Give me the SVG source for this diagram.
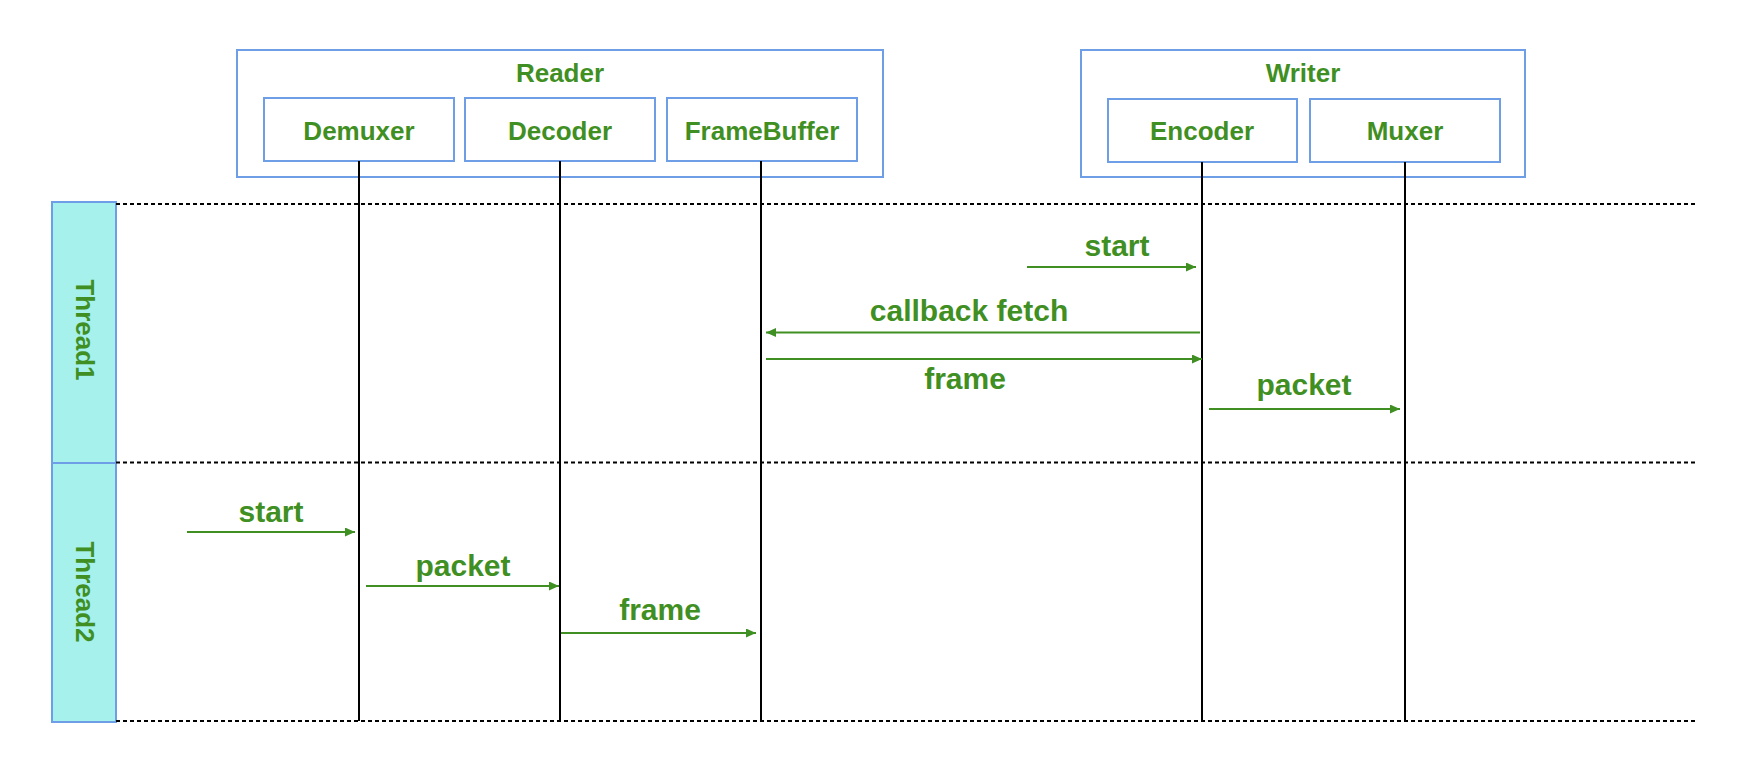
<svg xmlns="http://www.w3.org/2000/svg" width="1744" height="770" viewBox="0 0 1744 770">
<style>
.box{fill:#ffffff;stroke:#6d9ee6;stroke-width:2}
.thread{fill:#a6f1ec;stroke:#6d9ee6;stroke-width:2}
.t{font-family:"Liberation Sans",Arial,Helvetica,sans-serif;font-weight:bold;fill:#3f8f23;text-anchor:middle}
.n{font-size:26px}
.l{font-size:30px}
.life{stroke:#000000;stroke-width:2;fill:none}
.dot{stroke:#000000;stroke-width:2;stroke-dasharray:4 3;fill:none}
.msg{stroke:#3f8f23;stroke-width:2;fill:none;marker-end:url(#ah)}
</style>
<defs>
<marker id="ah" markerUnits="userSpaceOnUse" markerWidth="11" markerHeight="10" refX="10" refY="4.5" orient="auto">
<path d="M0,0 L10,4.5 L0,9 z" fill="#3f8f23"/>
</marker>
</defs>
<rect width="1744" height="770" fill="#ffffff"/>

<g id="reader">
<rect class="box" x="237" y="50" width="646" height="127"/>
<text class="t n" x="560" y="82">Reader</text>
</g>
<g id="demuxer">
<rect class="box" x="264" y="98" width="190" height="63"/>
<text class="t n" x="359" y="140">Demuxer</text>
</g>
<g id="decoder">
<rect class="box" x="465" y="98" width="190" height="63"/>
<text class="t n" x="560" y="140">Decoder</text>
</g>
<g id="framebuffer">
<rect class="box" x="667" y="98" width="190" height="63"/>
<text class="t n" x="762" y="140">FrameBuffer</text>
</g>
<g id="writer">
<rect class="box" x="1081" y="50" width="444" height="127"/>
<text class="t n" x="1303" y="82">Writer</text>
</g>
<g id="encoder">
<rect class="box" x="1108" y="99" width="189" height="63"/>
<text class="t n" x="1202" y="140">Encoder</text>
</g>
<g id="muxer">
<rect class="box" x="1310" y="99" width="190" height="63"/>
<text class="t n" x="1405" y="140">Muxer</text>
</g>

<g id="thread1">
<rect class="thread" x="52" y="202" width="64" height="261"/>
<text class="t n" transform="translate(76,330) rotate(90)" x="0" y="0">Thread1</text>
</g>
<g id="thread2">
<rect class="thread" x="52" y="463" width="64" height="259"/>
<text class="t n" transform="translate(76,592) rotate(90)" x="0" y="0">Thread2</text>
</g>

<g id="separators">
<line class="dot" x1="116" y1="204" x2="1696" y2="204"/>
<line class="dot" x1="116" y1="462.5" x2="1696" y2="462.5"/>
<line class="dot" x1="116" y1="721" x2="1696" y2="721"/>
</g>

<g id="lifelines">
<line class="life" x1="359" y1="161" x2="359" y2="721"/>
<line class="life" x1="560" y1="161" x2="560" y2="721"/>
<line class="life" x1="761" y1="161" x2="761" y2="721"/>
<line class="life" x1="1202" y1="162" x2="1202" y2="721"/>
<line class="life" x1="1405" y1="162" x2="1405" y2="721"/>
</g>

<g id="connectors">
<line class="msg" x1="1027" y1="267" x2="1196" y2="267"/>
<text class="t l" x="1117" y="256">start</text>
<line class="msg" x1="1200" y1="332.5" x2="766" y2="332.5"/>
<text class="t l" x="969" y="321">callback fetch</text>
<line class="msg" x1="766" y1="359" x2="1202" y2="359"/>
<text class="t l" x="965" y="389">frame</text>
<line class="msg" x1="1209" y1="409" x2="1400" y2="409"/>
<text class="t l" x="1304" y="395">packet</text>
<line class="msg" x1="187" y1="532" x2="355" y2="532"/>
<text class="t l" x="271" y="522">start</text>
<line class="msg" x1="366" y1="586" x2="559" y2="586"/>
<text class="t l" x="463" y="576">packet</text>
<line class="msg" x1="561" y1="633" x2="756" y2="633"/>
<text class="t l" x="660" y="620">frame</text>
</g>
</svg>
